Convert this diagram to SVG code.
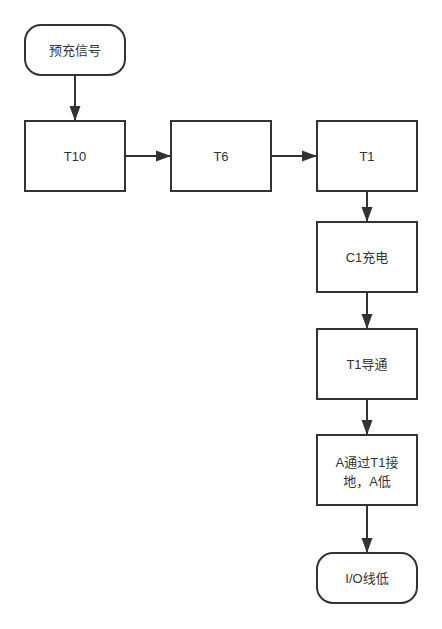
<svg xmlns="http://www.w3.org/2000/svg" width="442" height="629" viewBox="0 0 442 629">
<style>
.n{fill:#fff;stroke:#333;stroke-width:2}
.t{font-family:"Liberation Sans","Noto Sans CJK SC",sans-serif;font-size:13px;fill:#333;text-anchor:middle;dominant-baseline:central}
.c{stroke:#333;stroke-width:2;fill:none;marker-end:url(#ah)}
</style>
<defs>
<marker id="ah" markerUnits="userSpaceOnUse" markerWidth="16" markerHeight="12" refX="15" refY="6" orient="auto">
<path d="M0,0.5 L15,6 L0,11.5 Z" fill="#333"/>
</marker>
</defs>
<rect width="442" height="629" fill="#fff"/>
<g id="connectors">
<path class="c" d="M75,75 V121"/>
<path class="c" d="M125,156 H171"/>
<path class="c" d="M271,156 H317"/>
<path class="c" d="M367,191 V222"/>
<path class="c" d="M367,292 V329"/>
<path class="c" d="M367,399 V435"/>
<path class="c" d="M367,505 V553"/>
</g>
<g id="start"><rect class="n" x="25" y="25" width="100" height="50" rx="16"/><text class="t" x="75" y="50">预充信号</text></g>
<g id="t10"><rect class="n" x="25" y="121" width="100" height="70"/><text class="t" x="75" y="156">T10</text></g>
<g id="t6"><rect class="n" x="171" y="121" width="100" height="70"/><text class="t" x="221" y="156">T6</text></g>
<g id="t1"><rect class="n" x="317" y="121" width="100" height="70"/><text class="t" x="367" y="156">T1</text></g>
<g id="c1"><rect class="n" x="317" y="222" width="100" height="70"/><text class="t" x="367" y="257">C1充电</text></g>
<g id="t1on"><rect class="n" x="317" y="329" width="100" height="70"/><text class="t" x="367" y="364">T1导通</text></g>
<g id="aground"><rect class="n" x="317" y="435" width="100" height="70"/><text class="t" x="367" y="462">A通过T1接</text><text class="t" x="367" y="481">地，A低</text></g>
<g id="end"><rect class="n" x="317" y="553" width="100" height="50" rx="16"/><text class="t" x="367" y="578">I/O线低</text></g>
</svg>
